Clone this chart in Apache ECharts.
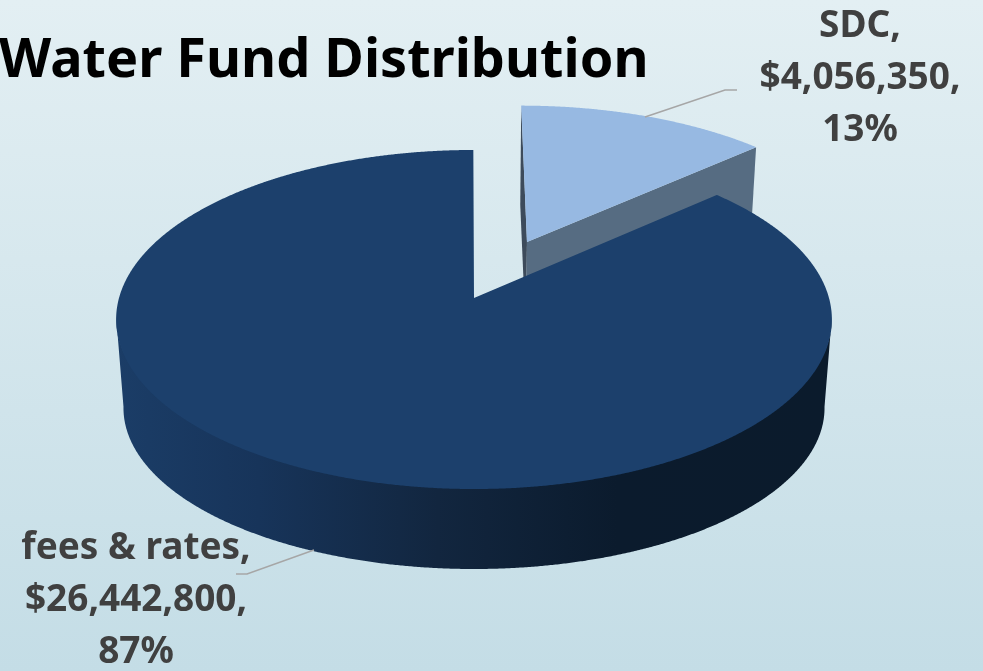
<!DOCTYPE html>
<html>
<head>
<meta charset="utf-8">
<title>Water Fund Distribution</title>
<style>
  html, body { margin: 0; padding: 0; }
</style>
<script src="https://cdn.jsdelivr.net/npm/echarts@6/dist/echarts.min.js"></script>
</head>
<body>
<div id="main" style="width: 983px;height:671px;"></div>
<script>
  // Slices go clockwise from 12 o'clock
  var categories = ['SDC', 'fees & rates'];
  var fundValues = [4056350, 26442800];

  var explodeBy = [0.384, 0];
  var topColors = ['#97b9e2', '#1c406c'];
  var sideColors = ['#566c82', '#566c82'];
  var edgeColor = '#3d4b5b';
  var labelPos = [[860, 78], [136, 600]];
  var leaderLines = [
    [[645, 117], [725, 90], [737, 90]],
    [[314, 550], [247, 574], [236, 574]]
  ];

  // perspective of the pie plane, top face and bottom face
  var persp = 0.1268;
  var topFace = {x: 474, y: 298, a: 355, b: 166.8};
  var wallFace = {x: 474, y: 296, a: 355, b: 166.8};
  var bottomFace = {x: 474, y: 387.6, a: 347.7, b: 158.4};

  var labelFont = 'bold 37px "Noto Sans", sans-serif';

  var total = fundValues.reduce(function (s, v) { return s + v; }, 0);

  function project(face, u, v) {
    var w = 1 + persp * v;
    return [face.x + face.a * u / w, face.y - face.b * v / w];
  }

  function renderSlice(params, api) {
    var idx = params.dataIndex;
    var start = 0;
    for (var i = 0; i < idx; i++) {
      start += fundValues[i] / total * Math.PI * 2;
    }
    var end = start + api.value(0) / total * Math.PI * 2;
    var mid = (start + end) / 2;
    var du = explodeBy[idx] * Math.sin(mid);
    var dv = explodeBy[idx] * Math.cos(mid);

    function rim(face, a) {
      return project(face, Math.sin(a) + du, Math.cos(a) + dv);
    }

    var children = [];
    var step = Math.PI / 720;
    var topPts = [project(topFace, du, dv)];
    var wallTop = [];
    var wallBottom = [];
    for (var a = start; a < end + step / 2; a += step) {
      var t = Math.min(a, end);
      topPts.push(rim(topFace, t));
      if (Math.cos(t) + dv < -persp + 0.01) {
        // wall starts a little under the top face so no seam shows
        wallTop.push(rim(wallFace, t));
        wallBottom.unshift(rim(bottomFace, t));
      }
    }

    if (explodeBy[idx] > 0) {
      // the cut faces are only visible on the pulled out slice
      children.push({
        type: 'polygon',
        shape: {points: [project(topFace, du, dv), rim(topFace, start), rim(bottomFace, start), project(bottomFace, du, dv)]},
        style: {fill: edgeColor}
      });
      children.push({
        type: 'polygon',
        shape: {points: [project(topFace, du, dv), rim(topFace, end), rim(bottomFace, end), project(bottomFace, du, dv)]},
        style: {fill: sideColors[idx]}
      });
    }
    if (wallTop.length) {
      children.push({
        type: 'polygon',
        shape: {points: wallTop.concat(wallBottom)},
        style: {
          fill: new echarts.graphic.LinearGradient(116, 0, 831, 0, [
            {offset: 0, color: '#1b3d67'},
            {offset: 0.2, color: '#17345a'},
            {offset: 0.45, color: '#12263f'},
            {offset: 0.7, color: '#0b1b2d'},
            {offset: 1, color: '#0b1b2c'}
          ], true)
        }
      });
    }
    children.push({
      type: 'polygon',
      shape: {points: topPts},
      style: {fill: topColors[idx]}
    });
    children.push({
      type: 'polyline',
      z2: 5,
      shape: {points: leaderLines[idx]},
      style: {stroke: '#a6a6a6', lineWidth: 1.5, fill: null}
    });
    children.push({
      type: 'text',
      z2: 10,
      x: labelPos[idx][0],
      y: labelPos[idx][1],
      style: {
        text: categories[idx] + ',\n$' + api.value(0).toLocaleString('en-US') + ',\n' + Math.round(api.value(0) / total * 100) + '%',
        font: labelFont,
        fill: '#404040',
        align: 'center',
        verticalAlign: 'middle',
        lineHeight: 52
      }
    });
    return {type: 'group', children: children};
  }

  var myChart = echarts.init(document.getElementById('main'));
  var option = {
    animation: false,
    backgroundColor: new echarts.graphic.LinearGradient(0, 0, 0, 1, [
      {offset: 0, color: '#e3eff3'},
      {offset: 1, color: '#c4dde6'}
    ]),
    title: {
      text: 'Water Fund Distribution',
      left: -6,
      top: 30,
      textStyle: {
        color: '#000000',
        fontFamily: '"Noto Sans", sans-serif',
        fontWeight: 'bold',
        fontSize: 54
      }
    },
    series: [{
      type: 'custom',
      coordinateSystem: 'none',
      silent: true,
      renderItem: renderSlice,
      data: fundValues.map(function (v) { return [v]; })
    }]
  };
  myChart.setOption(option);
</script>
</body>
</html>
